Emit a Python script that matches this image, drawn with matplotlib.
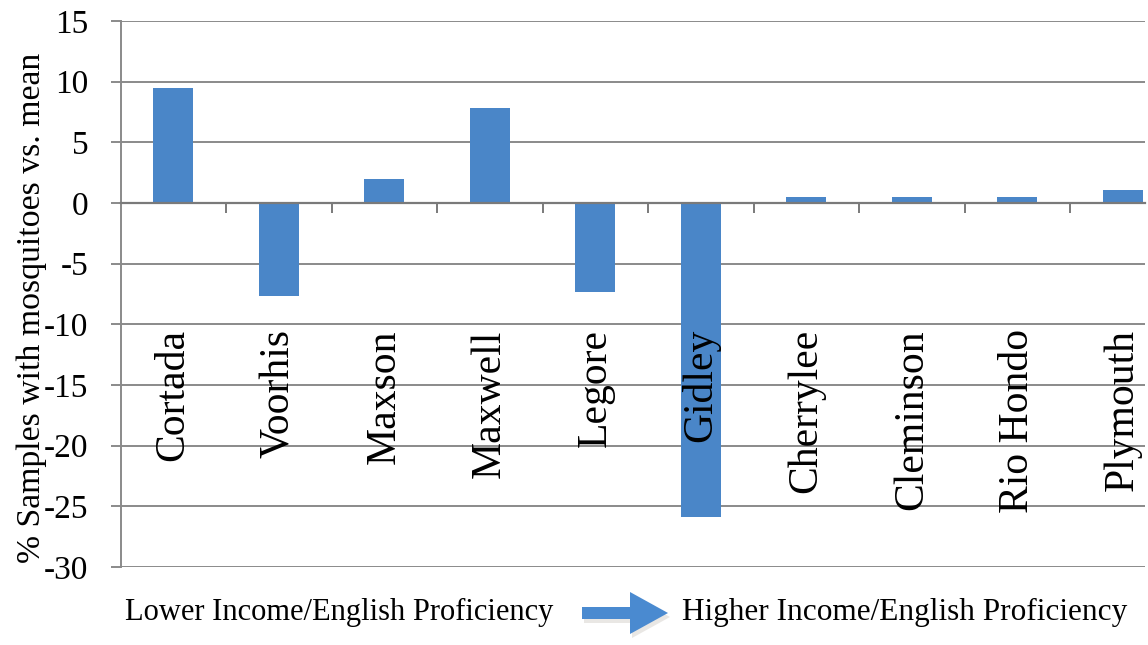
import matplotlib as mpl
import matplotlib.pyplot as plt
from matplotlib.patches import FancyArrow

mpl.use('Agg')

schools = ['Cortada', 'Voorhis', 'Maxson', 'Maxwell', 'Legore',
           'Gidley', 'Cherrylee', 'Cleminson', 'Rio Hondo', 'Plymouth']
vs_mean = [9.5, -7.7, 2.0, 7.8, -7.3, -25.9, 0.5, 0.5, 0.5, 1.05]
y_ticks = [15, 10, 5, 0, -5, -10, -15, -20, -25, -30]

plt.rcParams['font.family'] = ['Liberation Serif', 'DejaVu Serif']
plt.rcParams['axes.unicode_minus'] = False

fig = plt.figure(figsize=(11.48, 6.45), dpi=100)
ax = fig.add_axes([120.5 / 1148, 1 - 567 / 645, (1145 - 120.5) / 1148, (567 - 21) / 645])

x = list(range(len(schools)))
ax.bar(x, vs_mean, width=0.38, color='#4a86c8', zorder=2)

ax.set_xlim(-0.5, 9.21)
ax.set_ylim(-30, 15)
ax.set_yticks(y_ticks)
ax.yaxis.grid(True, color='#8a8a8a', linewidth=1.4, zorder=0)
ax.set_axisbelow(True)

# category axis sits on the zero line, ticks between the schools
ax.spines['bottom'].set_position(('data', 0))
ax.spines['bottom'].set_color('#7a7a7a')
ax.spines['bottom'].set_linewidth(1.6)
ax.spines['bottom'].set_zorder(3)
ax.set_xticks([i + 0.5 for i in range(len(schools) - 1)])
ax.tick_params(axis='x', direction='out', length=7, width=1.4, color='#7a7a7a', labelbottom=False)

ax.spines['left'].set_color('#8a8a8a')
ax.spines['left'].set_linewidth(1.4)
ax.spines['top'].set_visible(False)
ax.spines['right'].set_visible(False)
ax.tick_params(axis='y', direction='out', length=7, width=1.4, color='#8a8a8a', labelsize=24, pad=16)

for i, name in enumerate(schools):
    ax.text(i, -10.4, name, rotation=90, ha='center', va='top', fontsize=30, zorder=4)

ax.set_ylabel('% Samples with mosquitoes vs. mean', fontsize=24.3)
ax.yaxis.set_label_coords(-0.072, 0.474)

fig.text(125 / 1148, 1 - 612 / 645, 'Lower Income/English Proficiency', ha='left', va='center', fontsize=22)
fig.text(905 / 1148, 1 - 612 / 645, 'Higher Income/English Proficiency', ha='center', va='center', fontsize=22.5)

# arrow between the two captions, with a soft shadow underneath
shadow = FancyArrow(584 / 1148, 1 - 617 / 645, 86 / 1148, 0, width=12 / 645, head_width=42 / 645,
                    head_length=38 / 1148, length_includes_head=True, color='#b8b0a8', alpha=0.3,
                    linewidth=0, transform=fig.transFigure)
arrow = FancyArrow(582 / 1148, 1 - 613 / 645, 86 / 1148, 0, width=12 / 645, head_width=42 / 645,
                   head_length=38 / 1148, length_includes_head=True, color='#4a8ad0',
                   linewidth=0, transform=fig.transFigure)
fig.patches.extend([shadow, arrow])

fig.savefig('out.png', dpi=100)
